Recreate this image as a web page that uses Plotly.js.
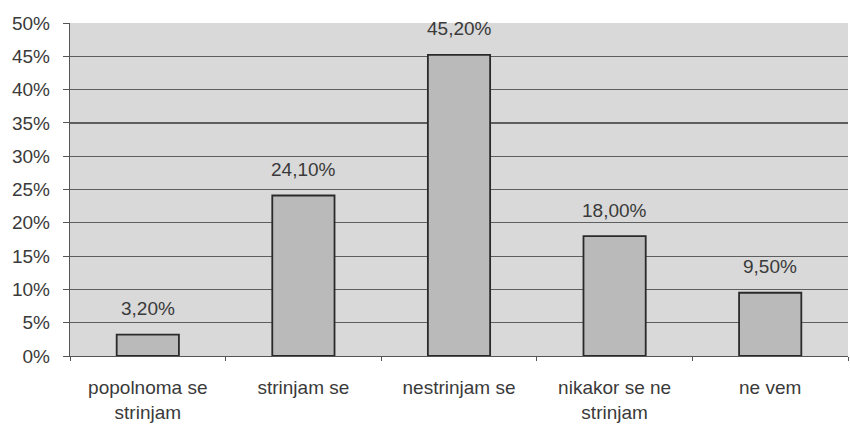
<!DOCTYPE html>
<html><head><meta charset="utf-8">
<script src="https://cdn.plot.ly/plotly-3.0.1.min.js"></script>
<style>html,body{margin:0;padding:0;background:#fff}</style>
</head><body>
<div id="chart" style="width:850px;height:427px"></div>
<script>
const categories = ["popolnoma se<br>strinjam", "strinjam se", "nestrinjam se", "nikakor se ne<br>strinjam", "ne vem"];
const values = [3.2, 24.1, 45.2, 18.0, 9.5];
const yTicks = [0, 5, 10, 15, 20, 25, 30, 35, 40, 45, 50];

const font = {family: "Liberation Sans, Arial, sans-serif", size: 19, color: "#3a3a3a"};

const trace = {
  type: "bar",
  x: categories,
  y: values,
  marker: {color: "#bababa", line: {color: "#2a2a2a", width: 1.8}},
  hoverinfo: "none"
};

const annotations = categories.map((c, i) => ({
  x: c, y: values[i], xref: "x", yref: "y",
  text: values[i].toFixed(2).replace(".", ",") + "%",
  showarrow: false, yanchor: "middle", yshift: 26,
  font: font
}));

const layout = {
  width: 850, height: 427,
  margin: {l: 70, r: 2, t: 23, b: 71},
  paper_bgcolor: "#ffffff",
  plot_bgcolor: "#d9d9d9",
  bargap: 0.6,
  showlegend: false,
  font: font,
  xaxis: {
    type: "category",
    showline: true, linecolor: "#555", linewidth: 1.2,
    ticks: "outside", tickson: "boundaries", ticklen: 4, tickcolor: "#555",
    ticklabelstandoff: 14,
    showgrid: false, tickfont: font, automargin: false
  },
  yaxis: {
    range: [0, 50], tickvals: yTicks, ticktext: yTicks.map(v => v + "%"),
    showline: true, linecolor: "#555", linewidth: 1.2,
    ticks: "outside", ticklen: 6, tickcolor: "#555",
    ticklabelstandoff: 9,
    showgrid: true, gridcolor: "#5e5e5e", gridwidth: 1.2,
    zeroline: false, tickfont: font, automargin: false
  },
  annotations: annotations
};

Plotly.newPlot("chart", [trace], layout, {displayModeBar: false, staticPlot: true});
</script>
</body></html>
